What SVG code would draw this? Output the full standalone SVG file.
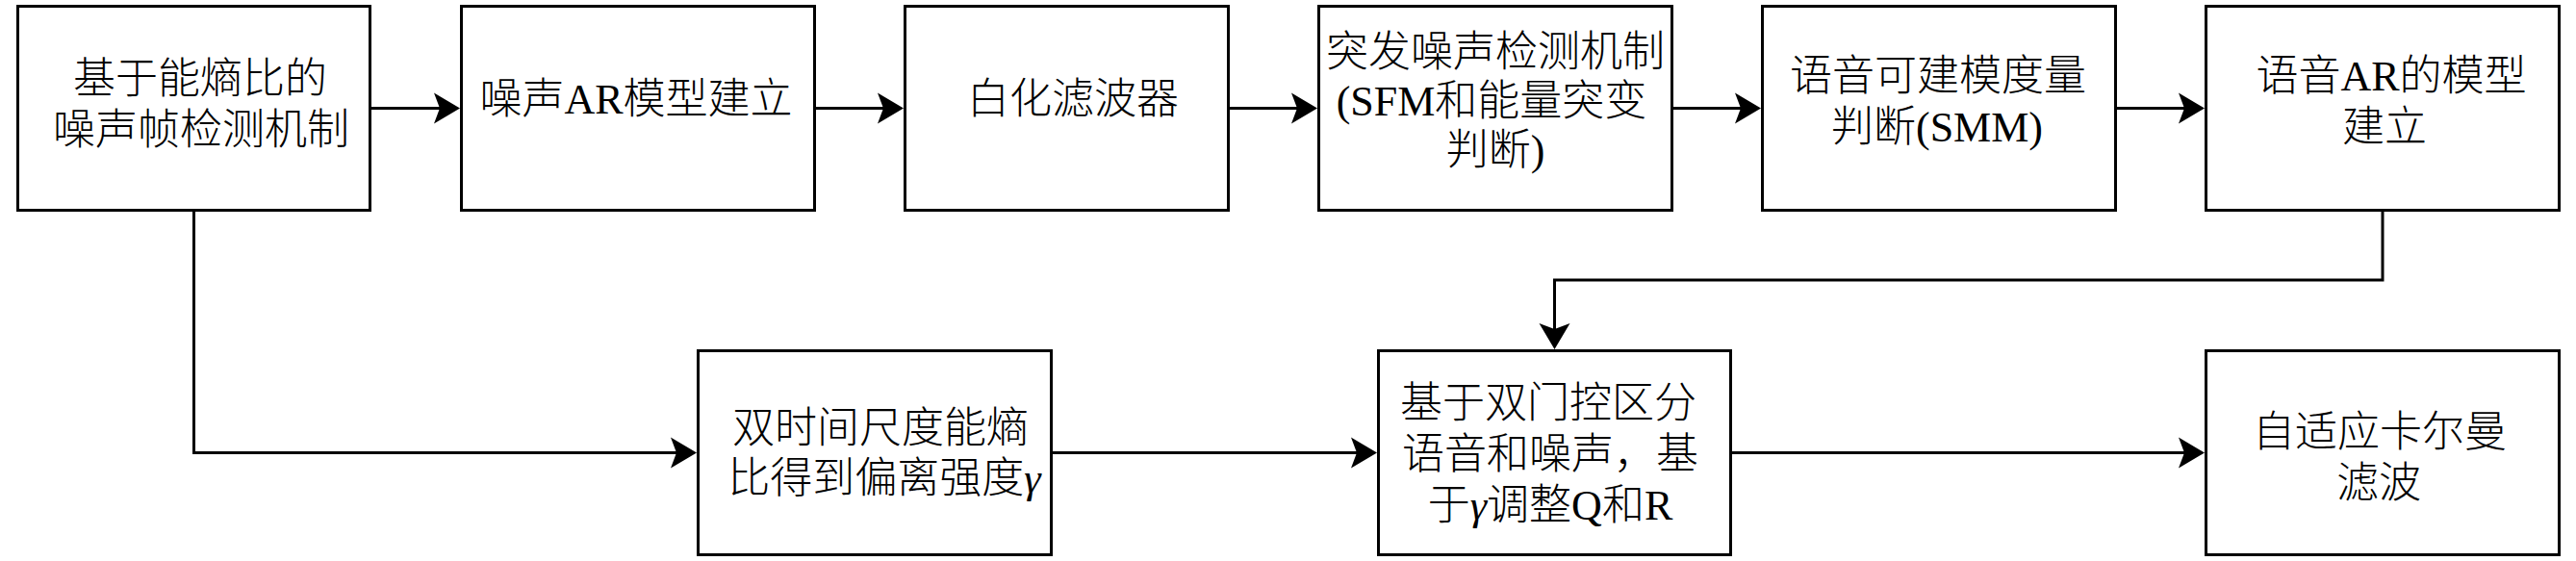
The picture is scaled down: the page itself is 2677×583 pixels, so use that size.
<svg xmlns="http://www.w3.org/2000/svg" width="2677" height="583" viewBox="0 0 2677 583">
<style>
.box{fill:#fff;stroke:#000;stroke-width:3}
.t{font-family:"Liberation Serif","Noto Sans CJK SC",serif;font-size:44px;font-weight:300;fill:#000;text-anchor:middle}
.c{fill:none;stroke:#000;stroke-width:3}
.g{font-style:italic}
</style>
<defs>
<marker id="ah" markerUnits="userSpaceOnUse" viewBox="-8 -17 29 34" refX="0" refY="0" markerWidth="29" markerHeight="34" orient="auto">
<path d="M20,0 L-7,-16 L-1,0 L-7,16 Z" fill="#000"/>
</marker>
</defs>
<rect width="2677" height="583" fill="#fff"/>
<g id="connectors">
<path class="c" d="M386,112.5 H458" marker-end="url(#ah)"/>
<path class="c" d="M848,112.5 H919" marker-end="url(#ah)"/>
<path class="c" d="M1278,112.5 H1349" marker-end="url(#ah)"/>
<path class="c" d="M1739,112.5 H1810" marker-end="url(#ah)"/>
<path class="c" d="M2200,112.5 H2271" marker-end="url(#ah)"/>
<path class="c" d="M201.5,220 V470.5 H704" marker-end="url(#ah)"/>
<path class="c" d="M1094,470.5 H1411" marker-end="url(#ah)"/>
<path class="c" d="M1800,470.5 H2271" marker-end="url(#ah)"/>
<path class="c" d="M2476,220 V291 H1615.5 V343" marker-end="url(#ah)"/>
</g>
<g id="n1"><rect class="box" x="18.5" y="6.5" width="366" height="212"/>
<text class="t" x="208" y="97">基于能熵比的</text><text class="t" x="209" y="150">噪声帧检测机制</text></g>
<g id="n2"><rect class="box" x="479.5" y="6.5" width="367" height="212"/>
<text class="t" x="661" y="118">噪声AR模型建立</text></g>
<g id="n3"><rect class="box" x="940.5" y="6.5" width="336" height="212"/>
<text class="t" x="1115" y="118">白化滤波器</text></g>
<g id="n4"><rect class="box" x="1370.5" y="6.5" width="367" height="212"/>
<text class="t" x="1554" y="69">突发噪声检测机制</text><text class="t" x="1550" y="120">(SFM和能量突变</text><text class="t" x="1554" y="171">判断)</text></g>
<g id="n5"><rect class="box" x="1831.5" y="6.5" width="367" height="212"/>
<text class="t" x="2014" y="94">语音可建模度量</text><text class="t" x="2013" y="147">判断(SMM)</text></g>
<g id="n6"><rect class="box" x="2292.5" y="6.5" width="367" height="212"/>
<text class="t" x="2485" y="94">语音AR的模型</text><text class="t" x="2478" y="147">建立</text></g>
<g id="n7"><rect class="box" x="725.5" y="364.5" width="367" height="212"/>
<text class="t" x="915" y="460">双时间尺度能熵</text><text class="t" x="919" y="512">比得到偏离强度<tspan class="g">γ</tspan></text></g>
<g id="n8"><rect class="box" x="1432.5" y="364.5" width="366" height="212"/>
<text class="t" x="1609" y="434">基于双门控区分</text><text class="t" x="1611" y="487">语音和噪声，基</text><text class="t" x="1611" y="540">于<tspan class="g">γ</tspan>调整Q和R</text></g>
<g id="n9"><rect class="box" x="2292.5" y="364.5" width="367" height="212"/>
<text class="t" x="2473" y="464">自适应卡尔曼</text><text class="t" x="2472" y="517">滤波</text></g>
</svg>
